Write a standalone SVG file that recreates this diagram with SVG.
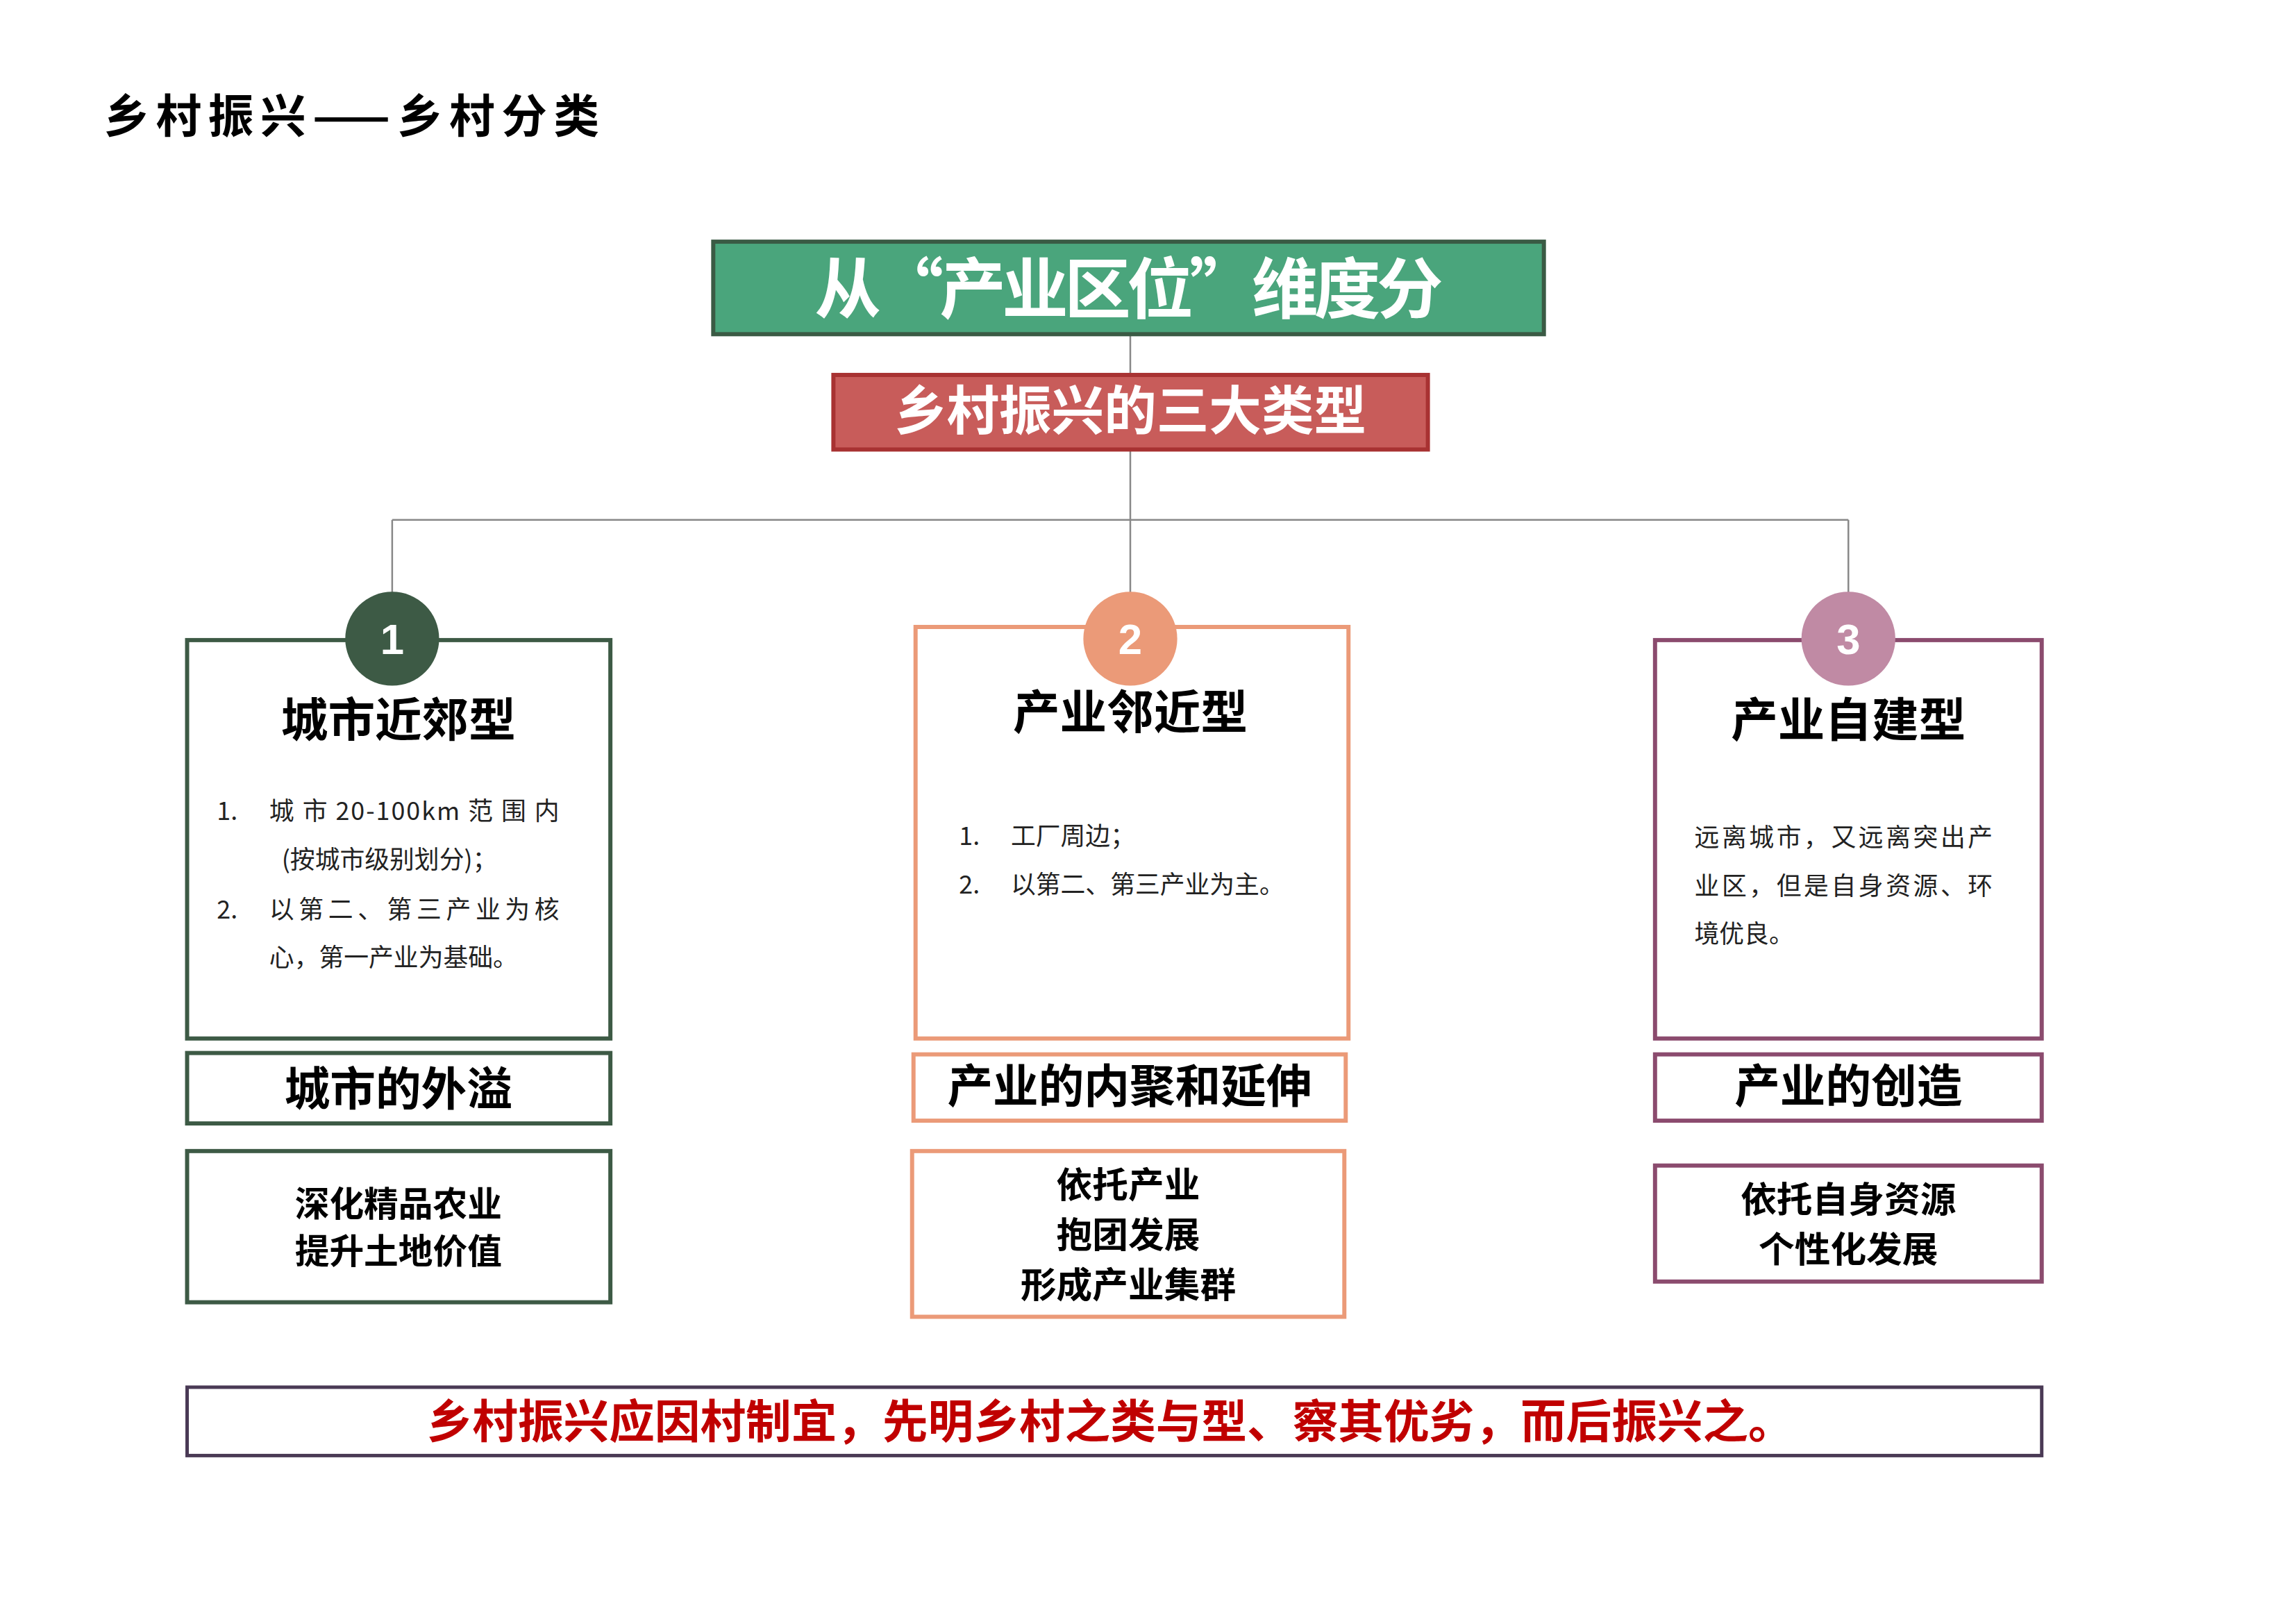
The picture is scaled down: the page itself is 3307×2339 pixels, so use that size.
<svg xmlns="http://www.w3.org/2000/svg" width="3307" height="2339" viewBox="0 0 3307 2339">
<style>
text{font-family:"Noto Sans CJK SC","Liberation Sans",sans-serif}
.t{font-weight:bold;text-anchor:middle}
.b{font-size:36px;fill:#222}
.ln{stroke:#888;stroke-width:2.5;fill:none}
.num{font-family:"Liberation Sans",sans-serif;font-weight:bold;font-size:62px;fill:#fff;text-anchor:middle}
</style>
<rect width="3307" height="2339" fill="#fff"/>
<g transform="scale(0.9945)">
<text x="150" y="192" font-size="66" font-weight="bold" textLength="718">乡村振兴——乡村分类</text>
<g id="connectors">
<path class="ln" d="M1637 484V543M1637 651V862M568 753H2677M568 753V860M2677 753V860"/>
</g>
<g id="head"><rect x="1033" y="350" width="1203" height="134" fill="#4aa57c" stroke="#3a5a44" stroke-width="6"/>
<text class="t" x="1635" y="453" font-size="96" fill="#fff" textLength="910">从“产业区位”维度分</text></g>
<g id="sub"><rect x="1207" y="543" width="861" height="108" fill="#c85c5a" stroke="#a83232" stroke-width="6"/>
<text class="t" x="1637" y="622" font-size="76" fill="#fff">乡村振兴的三大类型</text></g>
<g id="n1">
<rect x="271" y="927" width="613" height="577" fill="#fff" stroke="#3d5a45" stroke-width="6"/>
<circle cx="568" cy="925" r="68" fill="#3d5a45"/><text class="num" x="568" y="947">1</text>
<text class="t" x="577" y="1067" font-size="68">城市近郊型</text>
<text class="b" x="314" y="1188">1.</text><text class="b" x="390" y="1188" textLength="420" lengthAdjust="spacing">城 市 20-100km 范 围 内</text>
<text class="b" x="408" y="1258">(按城市级别划分)；</text>
<text class="b" x="314" y="1330">2.</text><text class="b" x="390" y="1330" textLength="420">以第二、第三产业为核</text>
<text class="b" x="390" y="1400">心，第一产业为基础。</text>
</g>
<g id="n2">
<rect x="1326" y="908" width="627" height="596" fill="#fff" stroke="#eb9a78" stroke-width="6"/>
<circle cx="1637" cy="925" r="68" fill="#eb9a78"/><text class="num" x="1637" y="947">2</text>
<text class="t" x="1637" y="1056" font-size="68">产业邻近型</text>
<text class="b" x="1389" y="1224">1.</text><text class="b" x="1464" y="1224">工厂周边；</text>
<text class="b" x="1389" y="1294">2.</text><text class="b" x="1464" y="1294">以第二、第三产业为主。</text>
</g>
<g id="n3">
<rect x="2397" y="927" width="560" height="577" fill="#fff" stroke="#8b4b6e" stroke-width="6"/>
<circle cx="2677" cy="925" r="68" fill="#c08aa4"/><text class="num" x="2677" y="947">3</text>
<text class="t" x="2677" y="1067" font-size="68">产业自建型</text>
<text class="b" x="2454" y="1226" textLength="432">远离城市，又远离突出产</text>
<text class="b" x="2454" y="1296" textLength="432">业区，但是自身资源、环</text>
<text class="b" x="2454" y="1366">境优良。</text>
</g>
<g id="l1"><rect x="271" y="1525" width="613" height="102" fill="#fff" stroke="#3d5a45" stroke-width="6"/><text class="t" x="577" y="1601" font-size="66">城市的外溢</text></g>
<g id="l2"><rect x="1323" y="1527" width="626" height="96" fill="#fff" stroke="#eb9a78" stroke-width="6"/><text class="t" x="1636" y="1597" font-size="66">产业的内聚和延伸</text></g>
<g id="l3"><rect x="2397" y="1527" width="560" height="96" fill="#fff" stroke="#8b4b6e" stroke-width="6"/><text class="t" x="2677" y="1597" font-size="66">产业的创造</text></g>
<g id="d1"><rect x="271" y="1667" width="613" height="219" fill="#fff" stroke="#3d5a45" stroke-width="6"/>
<text class="t" x="577" y="1762" font-size="50">深化精品农业</text><text class="t" x="577" y="1830" font-size="50">提升土地价值</text></g>
<g id="d2"><rect x="1321" y="1667" width="626" height="240" fill="#fff" stroke="#eb9a78" stroke-width="6"/>
<text class="t" x="1634" y="1735" font-size="52">依托产业</text><text class="t" x="1634" y="1807" font-size="52">抱团发展</text><text class="t" x="1634" y="1879" font-size="52">形成产业集群</text></g>
<g id="d3"><rect x="2397" y="1688" width="560" height="168" fill="#fff" stroke="#8b4b6e" stroke-width="6"/>
<text class="t" x="2677" y="1756" font-size="52">依托自身资源</text><text class="t" x="2677" y="1828" font-size="52">个性化发展</text></g>
<g id="banner"><rect x="271" y="2009" width="2686" height="99" fill="#fff" stroke="#4a3a55" stroke-width="5"/>
<text class="t" x="1608" y="2082" font-size="66" fill="#c00000" textLength="1980">乡村振兴应因村制宜，先明乡村之类与型、察其优劣，而后振兴之。</text></g>
</g>
</svg>
